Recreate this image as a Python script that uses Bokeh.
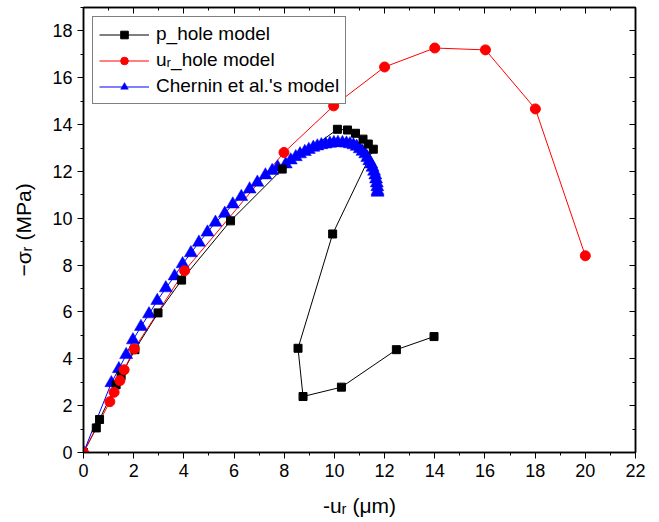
from bokeh.plotting import figure
from bokeh.models import (LinearAxis, FixedTicker, Legend, LegendItem, Range1d)
from bokeh.embed import file_html
from bokeh.resources import INLINE

# ---------------- data ----------------
p_hole_u = [0, 0.51, 0.64, 1.30, 1.50, 2.05, 2.97, 3.91, 5.86, 7.92, 10.12, 10.52,
            10.84, 11.14, 11.35, 11.55, 9.93, 8.55, 8.75, 10.28, 12.47, 13.97]
p_hole_s = [0, 1.05, 1.41, 2.89, 3.28, 4.39, 5.96, 7.36, 9.89, 12.10, 13.80, 13.77,
            13.63, 13.38, 13.17, 12.95, 9.33, 4.45, 2.39, 2.79, 4.39, 4.95]

ur_hole_u = [0, 1.05, 1.22, 1.45, 1.62, 2.02, 4.03, 7.99, 9.97, 12.0, 14.0, 16.02, 18.01, 20.0]
ur_hole_s = [0, 2.17, 2.57, 3.07, 3.53, 4.42, 7.76, 12.81, 14.80, 16.46, 17.27, 17.19, 14.67, 8.40]

chernin_u = [0, 1.11, 1.41, 1.70, 1.97, 2.29, 2.61, 2.94, 3.28, 3.63, 3.95, 4.28, 4.60,
             4.94, 5.26, 5.63, 5.95, 6.29, 6.62, 6.93, 7.25, 7.52, 7.74,
             8.06, 8.26, 8.46, 8.63, 8.82, 8.98, 9.16, 9.32, 9.48, 9.65, 9.82, 9.98,
             10.14, 10.32, 10.48, 10.62, 10.76, 10.89, 11.01, 11.12, 11.23, 11.31,
             11.39, 11.47, 11.52, 11.58, 11.63, 11.66, 11.69, 11.71, 11.72, 11.72]
chernin_s = [0, 2.97, 3.57, 4.17, 4.80, 5.37, 5.91, 6.48, 7.02, 7.53, 8.05, 8.52, 8.97,
             9.40, 9.82, 10.20, 10.60, 10.92, 11.24, 11.53, 11.84, 12.03, 12.18,
             12.31, 12.48, 12.62, 12.74, 12.84, 12.93, 13.02, 13.08, 13.13, 13.16, 13.19, 13.22,
             13.23, 13.22, 13.20, 13.17, 13.13, 13.06, 12.96, 12.85, 12.74, 12.59,
             12.45, 12.31, 12.17, 12.00, 11.84, 11.67, 11.50, 11.34, 11.17, 11.10]

x_major_ticks = [0, 2, 4, 6, 8, 10, 12, 14, 16, 18, 20, 22]
x_minor_ticks = list(range(0, 23))
y_major_ticks = [0, 2, 4, 6, 8, 10, 12, 14, 16, 18]
y_minor_ticks = list(range(0, 20))

x_label = "-uᵣ (μm)"
y_label = "−σᵣ (MPa)"
legend_labels = ["p_hole model", "uᵣ_hole model", "Chernin et al.'s model"]

FONT = "Liberation Sans"

p = figure(width=650, height=520,
           x_range=Range1d(0, 22), y_range=Range1d(0, 19),
           x_axis_type=None, y_axis_type=None,
           output_backend="svg", toolbar_location=None,
           min_border_left=83, min_border_right=15,
           min_border_top=7, min_border_bottom=68)
p.background_fill_color = "white"
p.border_fill_color = "white"
p.outline_line_color = "black"
p.outline_line_width = 1.5


def make_axis(major, minor, label, show_labels, inward):
    ax = LinearAxis(ticker=FixedTicker(ticks=major, minor_ticks=minor))
    ax.axis_line_color = "black"
    ax.axis_line_width = 1.5
    ax.major_tick_line_color = "black"
    ax.minor_tick_line_color = "black"
    ax.major_tick_line_width = 1
    ax.minor_tick_line_width = 1
    if inward:
        ax.major_tick_in = 6
        ax.major_tick_out = 0
        ax.minor_tick_in = 3
        ax.minor_tick_out = 0
    else:
        ax.major_tick_in = 0
        ax.major_tick_out = 6
        ax.minor_tick_in = 0
        ax.minor_tick_out = 3
    if show_labels:
        ax.major_label_text_font = FONT
        ax.major_label_text_font_size = "18px"
        ax.major_label_text_color = "black"
        ax.major_label_standoff = 5
        ax.axis_label = label
        ax.axis_label_text_font = FONT
        ax.axis_label_text_font_size = "21px"
        ax.axis_label_text_font_style = "normal"
        ax.axis_label_text_color = "black"
        ax.axis_label_standoff = 14
    else:
        ax.major_label_text_font_size = "0px"
        ax.major_label_text_color = None
        ax.major_label_standoff = 0
        ax.axis_label = None
    return ax


p.add_layout(make_axis(x_major_ticks, x_minor_ticks, x_label, True, False), "below")
p.add_layout(make_axis(y_major_ticks, y_minor_ticks, y_label, True, False), "left")
p.add_layout(make_axis(x_major_ticks, x_minor_ticks, None, False, True), "above")
p.add_layout(make_axis(y_major_ticks, y_minor_ticks, None, False, True), "right")

BLACK = "#000000"
RED = "#FF0000"
BLUE = "#0000FF"

l_black = p.line(p_hole_u, p_hole_s, line_color=BLACK, line_width=1)
l_red = p.line(ur_hole_u, ur_hole_s, line_color=RED, line_width=1)
l_blue = p.line(chernin_u, chernin_s, line_color=BLUE, line_width=1)

m_blue = p.scatter(chernin_u, chernin_s, marker="triangle", size=13,
                   fill_color=BLUE, line_color=BLUE, line_width=0.5)
m_black = p.scatter(p_hole_u, p_hole_s, marker="square", size=8,
                    fill_color=BLACK, line_color=BLACK)
m_red = p.scatter(ur_hole_u, ur_hole_s, marker="circle", size=10,
                  fill_color=RED, line_color=RED)

legend = Legend(items=[
    LegendItem(label=legend_labels[0], renderers=[l_black, m_black]),
    LegendItem(label=legend_labels[1], renderers=[l_red, m_red]),
    LegendItem(label=legend_labels[2], renderers=[l_blue, m_blue]),
], location="top_left")
legend.margin = 9
legend.padding = 6
legend.spacing = 4
legend.glyph_width = 50
legend.glyph_height = 19
legend.label_height = 19
legend.label_standoff = 7
legend.label_text_font = FONT
legend.label_text_font_size = "19px"
legend.label_text_color = "black"
legend.border_line_color = "black"
legend.border_line_width = 1
legend.background_fill_color = "white"
legend.background_fill_alpha = 1
p.add_layout(legend)

open("out.html", "w").write(file_html(p, INLINE))
